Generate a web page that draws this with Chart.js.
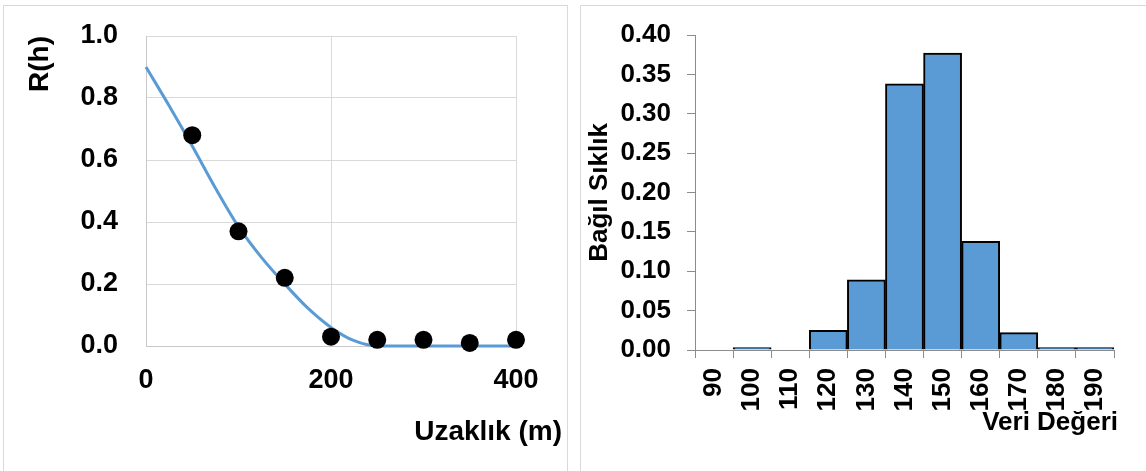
<!DOCTYPE html>
<html>
<head>
<meta charset="utf-8">
<title>R(h) ve Bağıl Sıklık</title>
<script src="https://cdn.jsdelivr.net/npm/chart.js@4.4.1/dist/chart.umd.min.js"></script>
<style>
    html, body { margin: 0; padding: 0; background: #fff; overflow: hidden; }
    .panel { position: absolute; top: 5px; height: 480px; border: 1px solid #d9d9d9; background: #fff; }
    #left-panel { left: 3px; width: 563px; }
    #right-panel { left: 580px; width: 570px; }
    canvas { display: block; }
</style>
</head>
<body>
<div class="panel" id="left-panel"><canvas id="correlogram" width="563" height="465"></canvas></div>
<div class="panel" id="right-panel"><canvas id="histogram" width="565" height="465"></canvas></div>

<script>
    "use strict";

    // Korelogram: deneysel noktalar
    var lagX = [50, 100, 150, 200, 250, 300, 350, 400];
    var lagR = [0.68, 0.37, 0.22, 0.03, 0.02, 0.02, 0.01, 0.02];

    // Korelogram: model eğrisi
    var modelX = [0, 25, 50, 75, 100, 125, 150, 175, 200, 225, 250, 275, 300, 350, 400];
    var modelR = [0.90, 0.775, 0.645, 0.51, 0.385, 0.285, 0.20, 0.122, 0.06, 0.017, 0, 0, 0, 0, 0];

    // Histogram
    var binLabels = ["90", "100", "110", "120", "130", "140", "150", "160", "170", "180", "190"];
    var relFreq = [0, 0.003, 0, 0.025, 0.089, 0.338, 0.377, 0.138, 0.022, 0.003, 0.003];

    var FONT = '"Liberation Sans", Arial, sans-serif';
    Chart.defaults.font.family = FONT;
    Chart.defaults.font.weight = "bold";
    Chart.defaults.color = "#000000";

    // x ekseni başlığı, grafik alanının sağına taşabiliyor
    var xTitlePlugin = {
        id: "xTitle",
        afterDraw: function (chart, args, opts) {
            var ctx = chart.ctx;
            ctx.save();
            ctx.font = "bold " + opts.size + "px " + FONT;
            ctx.fillStyle = "#000000";
            ctx.textAlign = "right";
            ctx.textBaseline = "middle";
            ctx.fillText(opts.text, opts.x, opts.y);
            ctx.restore();
        }
    };

    function pairs(xs, ys) {
        return xs.map(function (x, i) { return {x: x, y: ys[i]}; });
    }

    // eksen boyutlarını sabitle, etiket taşmasını yerleşime katma
    function fixSize(w, h) {
        return function (scale) {
            if (w) scale.width = w;
            if (h) scale.height = h;
            scale.paddingTop = 0;
            scale.paddingBottom = 0;
            scale.paddingLeft = 0;
            scale.paddingRight = 0;
        };
    }

    // Sol grafik
    new Chart(document.getElementById("correlogram"), {
        type: "scatter",
        data: {
            datasets: [{
                    label: "Deneysel",
                    data: pairs(lagX, lagR),
                    pointRadius: 9,
                    pointHoverRadius: 9,
                    backgroundColor: "#000000",
                    borderWidth: 0,
                    clip: false
                },
                {
                    label: "Model",
                    data: pairs(modelX, modelR),
                    showLine: true,
                    pointRadius: 0,
                    borderColor: "#5B9BD5",
                    borderWidth: 3,
                    cubicInterpolationMode: "monotone",
                    clip: false
                }
            ]
        },
        options: {
            responsive: false,
            animation: false,
            events: [],
            layout: {padding: {top: 30, right: 51, left: 0, bottom: 0}},
            plugins: {
                legend: {display: false},
                tooltip: {enabled: false},
                xTitle: {text: "Uzaklık (m)", size: 28, x: 558, y: 426}
            },
            scales: {
                x: {
                    type: "linear",
                    min: 0,
                    max: 400,
                    ticks: {stepSize: 200, padding: 18, font: {size: 27}},
                    grid: {color: "#d9d9d9", drawTicks: false},
                    border: {color: "#c8c8c8"},
                    afterFit: fixSize(0, 125)
                },
                y: {
                    min: 0,
                    max: 1,
                    ticks: {
                        stepSize: 0.2,
                        padding: 28,
                        font: {size: 27},
                        callback: function (v) { return v.toFixed(1); }
                    },
                    grid: {color: "#d9d9d9", drawTicks: false},
                    border: {color: "#c8c8c8"},
                    title: {
                        display: true,
                        text: "R(h)",
                        align: "end",
                        font: {size: 28},
                        padding: {top: 19, bottom: 0}
                    },
                    afterFit: fixSize(142, 0)
                }
            }
        },
        plugins: [xTitlePlugin]
    });

    // Sağ grafik
    new Chart(document.getElementById("histogram"), {
        type: "bar",
        data: {
            labels: binLabels,
            datasets: [{
                label: "Bağıl Sıklık",
                data: relFreq,
                backgroundColor: "#5B9BD5",
                borderColor: "#000000",
                borderWidth: 2,
                barPercentage: 1.0,
                categoryPercentage: 1.0
            }]
        },
        options: {
            responsive: false,
            animation: false,
            events: [],
            layout: {padding: {top: 29, right: 32, left: 0, bottom: 0}},
            plugins: {
                legend: {display: false},
                tooltip: {enabled: false},
                xTitle: {text: "Veri Değeri", size: 26, x: 537, y: 417}
            },
            scales: {
                x: {
                    offset: true,
                    ticks: {
                        autoSkip: false,
                        minRotation: 90,
                        maxRotation: 90,
                        padding: 10,
                        font: {size: 26}
                    },
                    grid: {offset: true, drawOnChartArea: false, tickLength: 8, color: "#8c8c8c"},
                    border: {color: "#8c8c8c"},
                    afterFit: fixSize(0, 121)
                },
                y: {
                    min: 0,
                    max: 0.4,
                    ticks: {
                        stepSize: 0.05,
                        padding: 16,
                        font: {size: 26},
                        callback: function (v) { return v.toFixed(2); }
                    },
                    grid: {drawOnChartArea: false, tickLength: 8, color: "#8c8c8c"},
                    border: {color: "#8c8c8c"},
                    title: {
                        display: true,
                        text: "Bağıl Sıklık",
                        font: {size: 26},
                        padding: {top: 3, bottom: 0}
                    },
                    afterFit: fixSize(114, 0)
                }
            }
        },
        plugins: [xTitlePlugin]
    });
</script>
</body>
</html>
